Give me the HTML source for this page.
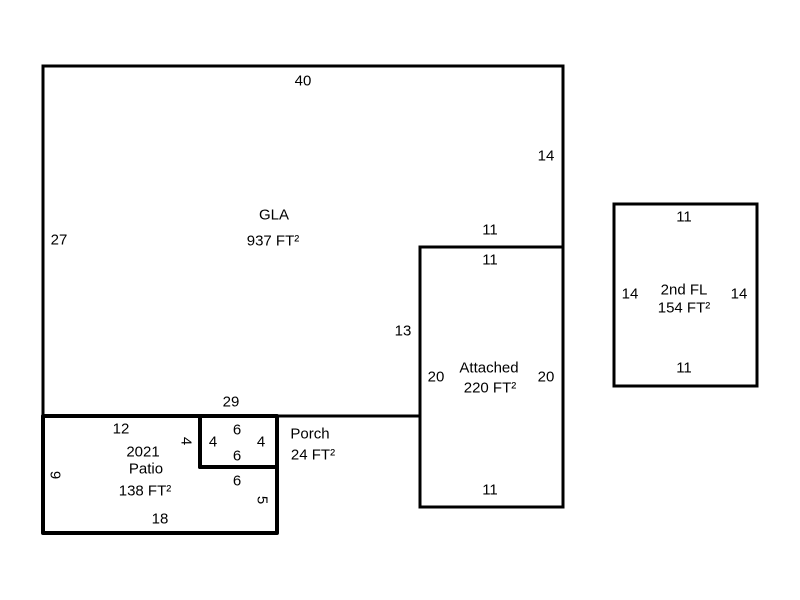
<!DOCTYPE html>
<html><head><meta charset="utf-8"><style>
html,body{margin:0;padding:0;background:#fff;width:800px;height:600px;overflow:hidden}
text{font-family:"Liberation Sans",Arial,sans-serif;font-size:15px;fill:#000;text-anchor:middle;dominant-baseline:central}
</style></head><body>
<svg width="800" height="600" viewBox="0 0 800 600" xmlns="http://www.w3.org/2000/svg">
<g fill="none" stroke="#000" stroke-width="3" stroke-linejoin="miter">
<polyline points="43,416 43,66 563,66 563,507 420,507 420,247 563,247"/>
<line x1="277" y1="416" x2="420" y2="416"/>
<rect x="614" y="204" width="143" height="182"/>
</g>
<g fill="none" stroke="#000" stroke-width="4" stroke-linejoin="round">
<polygon points="43,416 200,416 200,467 277,467 277,533 43,533"/>
<rect x="200" y="416" width="77" height="51"/>
</g>
<text x="303" y="81">40</text>
<text x="546" y="156">14</text>
<text x="59" y="240">27</text>
<text x="274" y="215">GLA</text>
<text x="273" y="241">937 FT²</text>
<text x="490" y="230">11</text>
<text x="490" y="260">11</text>
<text x="403" y="331">13</text>
<text x="436" y="377">20</text>
<text x="546" y="377">20</text>
<text x="489" y="368">Attached</text>
<text x="490" y="388">220 FT²</text>
<text x="490" y="490">11</text>
<text x="231" y="402">29</text>
<text x="121" y="429">12</text>
<text x="143" y="452">2021</text>
<text x="146" y="469">Patio</text>
<text x="145" y="491">138 FT²</text>
<text x="160" y="519">18</text>
<text x="237" y="430">6</text>
<text x="213" y="442">4</text>
<text x="261" y="442">4</text>
<text x="237" y="456">6</text>
<text x="237" y="481">6</text>
<text transform="translate(55,475) rotate(90)">9</text>
<text transform="translate(186,441) rotate(90)">4</text>
<text transform="translate(262,500) rotate(90)">5</text>
<text x="310" y="434">Porch</text>
<text x="313" y="455">24 FT²</text>
<text x="684" y="217">11</text>
<text x="630" y="294">14</text>
<text x="739" y="294">14</text>
<text x="684" y="290">2nd FL</text>
<text x="684" y="308">154 FT²</text>
<text x="684" y="368">11</text>
</svg>
</body></html>
